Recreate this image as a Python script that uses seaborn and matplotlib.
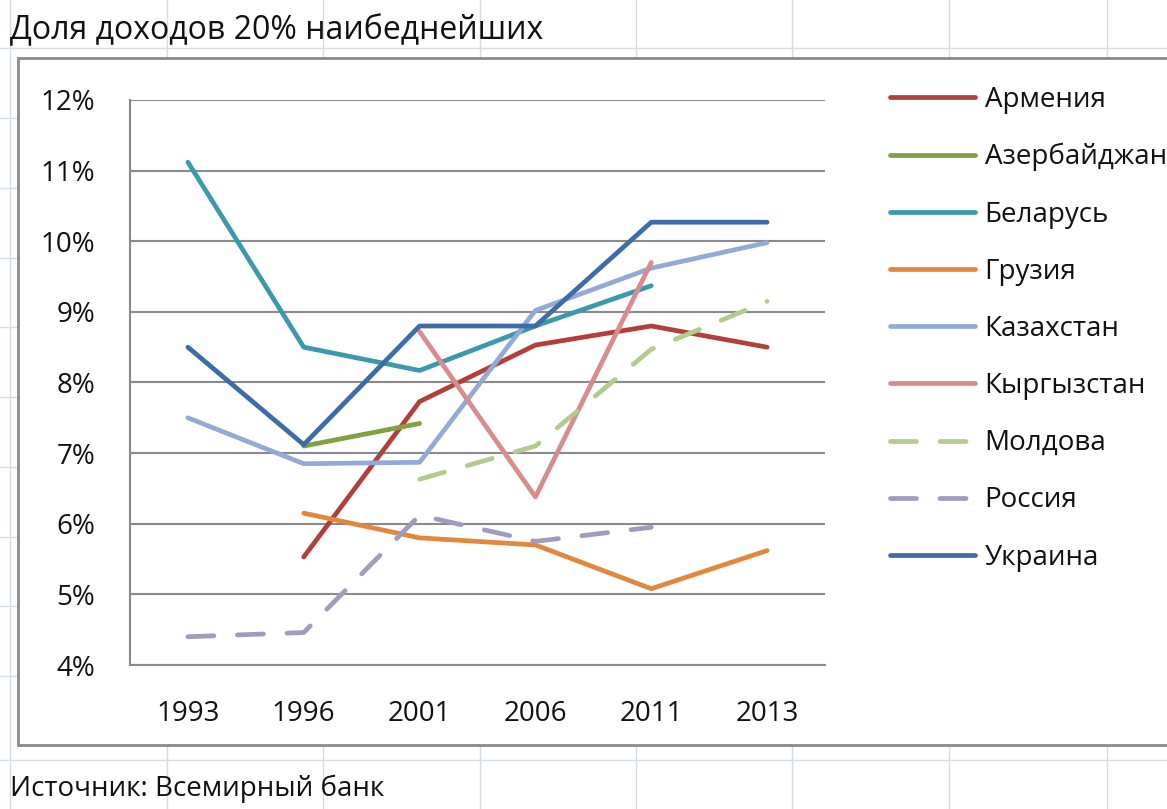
import numpy as np
import pandas as pd
import matplotlib
matplotlib.use("Agg")
import matplotlib.pyplot as plt
import seaborn as sns
from matplotlib.patches import Rectangle
from matplotlib.lines import Line2D

# -----------------------------
# Data (share of income held by poorest 20%, %)
# -----------------------------
years = ["1993", "1996", "2001", "2006", "2011", "2013"]
countries = ["Армения", "Азербайджан", "Беларусь", "Грузия", "Казахстан",
             "Кыргызстан", "Молдова", "Россия", "Украина"]

armenia = [np.nan, 5.53, 7.73, 8.53, 8.80, 8.50]
azerbaijan = [np.nan, 7.10, 7.42, np.nan, np.nan, np.nan]
belarus = [11.12, 8.50, 8.17, 8.80, 9.37, np.nan]
georgia = [np.nan, 6.15, 5.80, 5.70, 5.08, 5.62]
kazakhstan = [7.50, 6.85, 6.87, 9.02, 9.62, 9.98]
kyrgyzstan = [np.nan, np.nan, 8.72, 6.38, 9.70, np.nan]
moldova = [np.nan, np.nan, 6.63, 7.10, 8.47, 9.15]
russia = [4.40, 4.46, 6.12, 5.75, 5.95, np.nan]
ukraine = [8.50, 7.12, 8.80, 8.80, 10.27, 10.27]

series = [armenia, azerbaijan, belarus, georgia, kazakhstan,
          kyrgyzstan, moldova, russia, ukraine]

colors = ["#B33E3B", "#7FA13F", "#3A9AAB", "#E3873A", "#93AAD6",
          "#D88C8E", "#B3CC8E", "#9F9CBF", "#3E6CA8"]
dashed = ["Молдова", "Россия"]

rows = []
for name, vals in zip(countries, series):
    for i, v in enumerate(vals):
        if not np.isnan(v):
            rows.append({"country": name, "pos": i, "year": years[i], "value": v})
df = pd.DataFrame(rows)

palette = dict(zip(countries, colors))
dash_map = {c: ((5.5, 5.0) if c in dashed else "") for c in countries}

# -----------------------------
# Figure (Excel sheet look)
# -----------------------------
sns.set_style("white")
plt.rcParams["font.family"] = ["Open Sans", "DejaVu Sans"]

W, H = 1167, 809
fig = plt.figure(figsize=(W / 100, H / 100), dpi=100)

# faint spreadsheet cell lines
grid_c = "#D6DCE6"
for gx in [10, 167, 323, 480, 636, 792, 949, 1107]:
    fig.add_artist(Line2D([gx / W, gx / W], [0, 1], color=grid_c, lw=1, zorder=0))
for gy in [48, 118, 188, 258, 327, 397, 467, 537, 606, 676, 760]:
    fig.add_artist(Line2D([0, 1], [1 - gy / H, 1 - gy / H], color=grid_c, lw=1, zorder=0))

# chart area box
fig.add_artist(Rectangle((18 / W, 1 - 745 / H), (W + 20) / W, (745 - 58) / H,
                         facecolor="white", edgecolor="#8A8A8A", lw=2, zorder=1))

ax = fig.add_axes([130 / W, 1 - 665 / H, (825 - 130) / W, (665 - 100) / H], zorder=2)
ax.patch.set_alpha(0)

sns.lineplot(data=df, x="pos", y="value", hue="country", style="country",
             hue_order=countries, style_order=countries, palette=palette,
             dashes=dash_map, linewidth=3.4, sort=False, legend=False, ax=ax)
for ln in ax.lines:
    ln.set_solid_capstyle("round")
    ln.set_dash_capstyle("round")
    ln.set_solid_joinstyle("round")

ax.set_xlim(-0.5, len(years) - 0.5)
ax.set_ylim(4, 12)
ax.set_xlabel("")
ax.set_ylabel("")

ax.set_xticks(range(len(years)))
ax.set_xticklabels(years)
ax.set_xticks(np.arange(-0.5, len(years), 1.0), minor=True)
ax.tick_params(axis="x", which="major", length=0, pad=25, labelsize=20, labelcolor="#111111")
ax.tick_params(axis="x", which="minor", length=8, width=1.5, color="#8A8A8A", direction="out")

yt = list(range(4, 13))
ax.set_yticks(yt)
ax.set_yticklabels([f"{v}%" for v in yt])
ax.tick_params(axis="y", length=9, width=1.5, color="#8A8A8A", pad=16,
               labelsize=20, labelcolor="#111111", direction="out")

ax.yaxis.grid(True, color="#8A8A8A", lw=1.5)
ax.xaxis.grid(False)
for s in ["top", "right"]:
    ax.spines[s].set_visible(False)
for s in ["left", "bottom"]:
    ax.spines[s].set_color("#8A8A8A")
    ax.spines[s].set_linewidth(1.5)

leg = ax.legend(ax.lines, countries, loc="upper left",
                bbox_to_anchor=(890 / W, 1 - 86 / H), bbox_transform=fig.transFigure,
                frameon=False, fontsize=20, handlelength=3.05, handletextpad=0.36,
                labelspacing=1.05, borderpad=0, borderaxespad=0)
for t in leg.get_texts():
    t.set_color("#111111")

fig.text(10 / W, 1 - 31 / H, "Доля доходов 20% наибеднейших", fontsize=23,
         color="#111111", va="center", ha="left")
fig.text(10 / W, 1 - 789 / H, "Источник: Всемирный банк", fontsize=20,
         color="#111111", va="center", ha="left")

fig.savefig("out.png", dpi=100)
